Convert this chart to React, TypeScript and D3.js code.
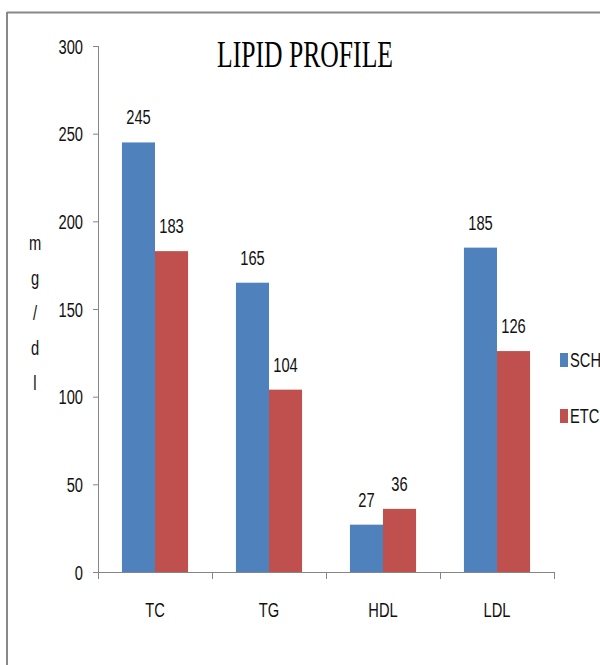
import React from "react";
import * as d3 from "d3";

const categories = ["TC", "TG", "HDL", "LDL"];
const seriesNames = ["SCH", "ETC"];
const schValues = [245, 165, 27, 185];
const etcValues = [183, 104, 36, 126];
const yTicks = [0, 50, 100, 150, 200, 250, 300];
const yLabelChars = ["m", "g", "/", "d", "l"];
const colors = ["#4F81BD", "#C0504D"];

const W = 600;
const H = 665;
const SX = 0.7;
const FONT = "'Liberation Sans', Arial, sans-serif";

function NText(props: { x: number; y: number; anchor?: string; size?: number; children: React.ReactNode }) {
  const { x, y, anchor = "middle", size = 21, children } = props;
  return (
    <text
      transform={`translate(${x},${y}) scale(${SX},1)`}
      textAnchor={anchor}
      fontFamily={FONT}
      fontSize={size}
      fill="#111"
    >
      {children}
    </text>
  );
}

export default function App() {
  const x0 = 98;
  const x1 = 554;
  const yScale = d3.scaleLinear().domain([0, 300]).range([572, 46]);
  const xBand = d3.scaleBand<string>().domain(categories).range([x0, x1]).padding(0);
  const bw = xBand.bandwidth();
  const inner = d3.scaleBand<string>().domain(seriesNames).range([bw * 0.21, bw * 0.79]).padding(0);
  const values = [schValues, etcValues];

  return (
    <svg width={W} height={H} style={{ position: "absolute", left: 0, top: 0 }}>
      <rect x={0} y={0} width={W} height={H} fill="#fff" />
      {/* outer border */}
      <line x1={7} y1={12.5} x2={W} y2={12.5} stroke="#888" strokeWidth={2} />
      <line x1={7} y1={12} x2={7} y2={H} stroke="#888" strokeWidth={2} />

      {/* title */}
      <text
        x={305}
        y={67}
        textAnchor="middle"
        fontFamily="'Liberation Serif', 'Times New Roman', serif"
        fontSize={37}
        textLength={176}
        lengthAdjust="spacingAndGlyphs"
        fill="#000"
      >
        LIPID PROFILE
      </text>

      {/* y axis */}
      <line x1={x0 + 0.5} y1={yScale(300)} x2={x0 + 0.5} y2={yScale(0)} stroke="#868686" strokeWidth={1} />
      {yTicks.map((t) => (
        <g key={t}>
          <line x1={x0 - 5} x2={x0} y1={yScale(t) + 0.5} y2={yScale(t) + 0.5} stroke="#868686" />
          <NText x={83} y={yScale(t) + 7.5} anchor="end">
            {t}
          </NText>
        </g>
      ))}

      {/* y label */}
      {yLabelChars.map((c, i) => (
        <NText key={i} x={35} y={250 + i * 35}>
          {c}
        </NText>
      ))}

      {/* bars */}
      {categories.map((cat, ci) => (
        <g key={cat}>
          {seriesNames.map((s, si) => {
            const v = values[si][ci];
            const bx = (xBand(cat) as number) + (inner(s) as number);
            const by = yScale(v);
            const w = inner.bandwidth();
            return (
              <g key={s}>
                <rect x={bx} y={by} width={w} height={yScale(0) - by} fill={colors[si]} />
                <NText x={bx + w / 2} y={by - 18}>
                  {v}
                </NText>
              </g>
            );
          })}
        </g>
      ))}

      {/* x axis */}
      <line x1={x0} x2={x1} y1={yScale(0) + 0.5} y2={yScale(0) + 0.5} stroke="#868686" />
      {categories.concat([""]).map((_, i) => {
        const tx = x0 + i * bw + 0.5;
        return <line key={i} x1={tx} x2={tx} y1={yScale(0)} y2={yScale(0) + 7} stroke="#868686" />;
      })}
      {categories.map((cat) => (
        <NText key={cat} x={(xBand(cat) as number) + bw / 2} y={617}>
          {cat}
        </NText>
      ))}

      {/* legend */}
      {seriesNames.map((s, i) => (
        <g key={s}>
          <rect x={560} y={353 + i * 56} width={8} height={14} fill={colors[i]} />
          <NText x={570} y={367 + i * 56} anchor="start">
            {s}
          </NText>
        </g>
      ))}
    </svg>
  );
}
